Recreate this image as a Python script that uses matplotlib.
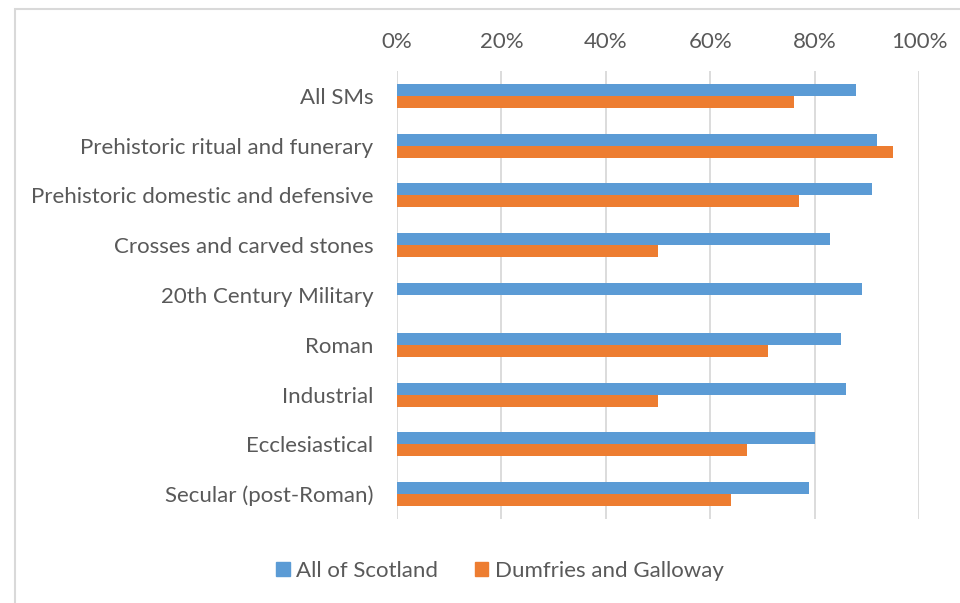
import matplotlib.pyplot as plt
import numpy as np
from matplotlib.patches import Rectangle, Patch
from matplotlib.ticker import FuncFormatter

categories = ["All SMs", "Prehistoric ritual and funerary",
              "Prehistoric domestic and defensive", "Crosses and carved stones",
              "20th Century Military", "Roman", "Industrial", "Ecclesiastical",
              "Secular (post-Roman)"]
scotland = [88, 92, 91, 83, 89, 85, 86, 80, 79]
dumfries = [76, 95, 77, 50, 0, 71, 50, 67, 64]
series_names = ["All of Scotland", "Dumfries and Galloway"]
xticks = [0, 20, 40, 60, 80, 100]

blue = "#5b9bd5"
orange = "#ed7d31"
txt = "#595959"
grid = "#d9d9d9"

plt.rcParams['font.family'] = ['Lato', 'DejaVu Sans']
fs = 16

fig = plt.figure(figsize=(9.6, 6.03), dpi=100)
ax = fig.add_axes([397/960, (603-519)/603, (919-397)/960, (519-71)/603])

y = np.arange(len(categories))
h = 0.24
ax.barh(y - h/2, scotland, height=h, color=blue, zorder=3)
ax.barh(y + h/2, dumfries, height=h, color=orange, zorder=3)

ax.set_xlim(0, 100)
ax.set_ylim(len(categories) - 0.5, -0.5)
ax.set_xticks(xticks)
ax.xaxis.set_major_formatter(FuncFormatter(lambda v, p: f"{v:.0f}%"))
ax.xaxis.tick_top()
ax.set_yticks(y)
ax.set_yticklabels(categories)
ax.tick_params(axis='both', length=0, labelsize=fs, colors=txt)
ax.tick_params(axis='x', pad=14)
ax.tick_params(axis='y', pad=17)
ax.grid(axis='x', color=grid, linewidth=1.3, zorder=0)
for s in ax.spines.values():
    s.set_visible(False)

# chart area border
fig.patches.append(Rectangle((14.7/960, -0.1), 2, (603-9.3)/603 + 0.1,
                             transform=fig.transFigure, fill=False,
                             edgecolor=grid, linewidth=1.5))

handles = [Patch(color=blue), Patch(color=orange)]
fig.legend(handles, series_names, loc='center', bbox_to_anchor=(500/960, (603-571)/603),
           ncol=2, frameon=False, fontsize=fs, labelcolor=txt,
           handlelength=0.6, handleheight=0.6, handletextpad=0.28, columnspacing=1.67)

fig.savefig("out.png", dpi=100)
